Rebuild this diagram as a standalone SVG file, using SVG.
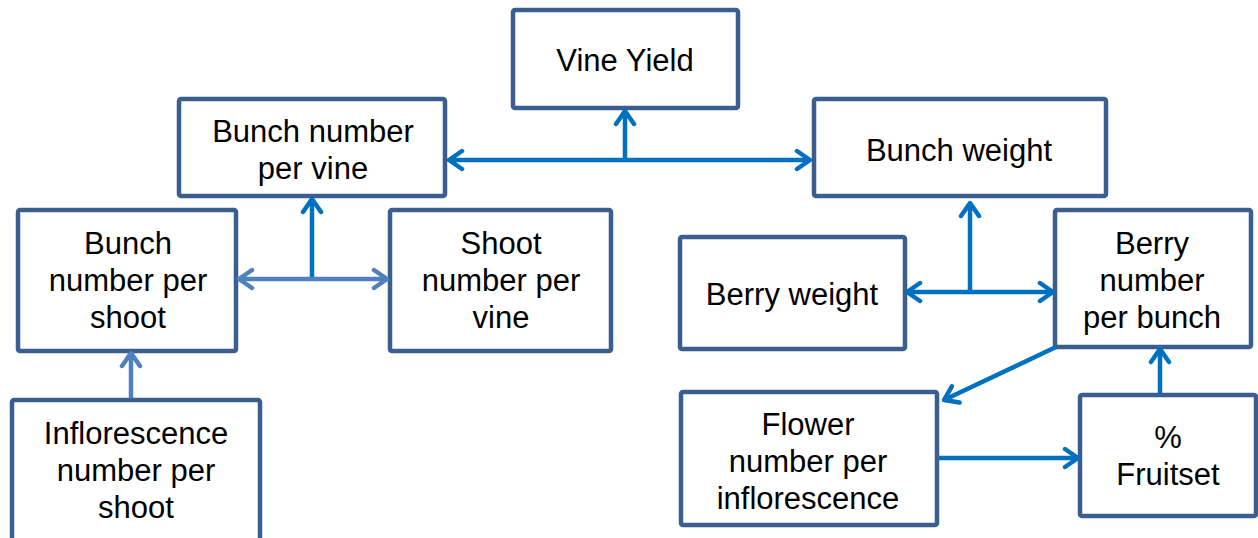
<svg xmlns="http://www.w3.org/2000/svg" width="1258" height="538" viewBox="0 0 1258 538">
<defs>
<style>
.box{fill:#fff;stroke:#3B5E91;stroke-width:4.5}
.t{font-family:"Liberation Sans",Arial,sans-serif;font-size:31px;fill:#000;text-anchor:middle}
.c{fill:none;stroke:#0070C0;stroke-width:4.5}
.c2{fill:none;stroke:#4F81BD;stroke-width:4.5}
</style>
<marker id="a" viewBox="0 0 24 24" refX="20" refY="12" markerWidth="24" markerHeight="24" markerUnits="userSpaceOnUse" orient="auto-start-reverse">
<path d="M7,3 L20,12 L7,21" fill="none" stroke="#0070C0" stroke-width="4.5" stroke-linecap="round" stroke-linejoin="round"/>
</marker>
<marker id="b" viewBox="0 0 24 24" refX="20" refY="12" markerWidth="24" markerHeight="24" markerUnits="userSpaceOnUse" orient="auto-start-reverse">
<path d="M7,3 L20,12 L7,21" fill="none" stroke="#4F81BD" stroke-width="4.5" stroke-linecap="round" stroke-linejoin="round"/>
</marker>
</defs>
<rect width="1258" height="538" fill="#fff"/>
<g id="vine-yield"><rect class="box" x="513" y="10" width="225" height="98" rx="2"/><text class="t" x="625" y="71">Vine Yield</text></g>
<g id="bunch-number-per-vine"><rect class="box" x="179" y="99" width="266" height="97" rx="2"/><text class="t" x="313" y="142">Bunch number</text><text class="t" x="313" y="179">per vine</text></g>
<g id="bunch-weight"><rect class="box" x="814" y="99" width="292" height="97" rx="2"/><text class="t" x="959" y="161">Bunch weight</text></g>
<g id="bunch-number-per-shoot"><rect class="box" x="18" y="210" width="218" height="141" rx="2"/><text class="t" x="128" y="254">Bunch</text><text class="t" x="128" y="291">number per</text><text class="t" x="128" y="328">shoot</text></g>
<g id="shoot-number-per-vine"><rect class="box" x="390" y="210" width="221" height="141" rx="2"/><text class="t" x="501" y="254">Shoot</text><text class="t" x="501" y="291">number per</text><text class="t" x="501" y="328">vine</text></g>
<g id="berry-weight"><rect class="box" x="680" y="237" width="225" height="112" rx="2"/><text class="t" x="792" y="305">Berry weight</text></g>
<g id="berry-number-per-bunch"><rect class="box" x="1055" y="210" width="196" height="137" rx="2"/><text class="t" x="1152" y="254">Berry</text><text class="t" x="1152" y="291">number</text><text class="t" x="1152" y="328">per bunch</text></g>
<g id="inflorescence-number-per-shoot"><rect class="box" x="12" y="400" width="248" height="145" rx="2"/><text class="t" x="136" y="444">Inflorescence</text><text class="t" x="136" y="481">number per</text><text class="t" x="136" y="518">shoot</text></g>
<g id="flower-number-per-inflorescence"><rect class="box" x="681" y="392" width="256" height="133" rx="2"/><text class="t" x="808" y="435">Flower</text><text class="t" x="808" y="472">number per</text><text class="t" x="808" y="509">inflorescence</text></g>
<g id="fruitset"><rect class="box" x="1080" y="395" width="176" height="121" rx="2"/><text class="t" x="1168" y="448">%</text><text class="t" x="1168" y="485">Fruitset</text></g>
<g id="connectors">
<line class="c" x1="449" y1="160" x2="810" y2="160" marker-start="url(#a)" marker-end="url(#a)"/>
<line class="c" x1="625" y1="160" x2="625" y2="111" marker-end="url(#a)"/>
<line class="c" x1="312" y1="279" x2="312" y2="199" marker-end="url(#a)"/>
<line class="c2" x1="239" y1="279" x2="387" y2="279" marker-start="url(#b)" marker-end="url(#b)"/>
<line class="c" x1="970" y1="292" x2="970" y2="203" marker-end="url(#a)"/>
<line class="c" x1="907" y1="292" x2="1053" y2="292" marker-start="url(#a)" marker-end="url(#a)"/>
<line class="c" x1="1056" y1="347" x2="944" y2="400" marker-end="url(#a)"/>
<line class="c" x1="939" y1="458" x2="1078" y2="458" marker-end="url(#a)"/>
<line class="c" x1="1160" y1="393" x2="1160" y2="349" marker-end="url(#a)"/>
<line class="c2" x1="131" y1="398" x2="131" y2="353" marker-end="url(#b)"/>
</g>
</svg>
